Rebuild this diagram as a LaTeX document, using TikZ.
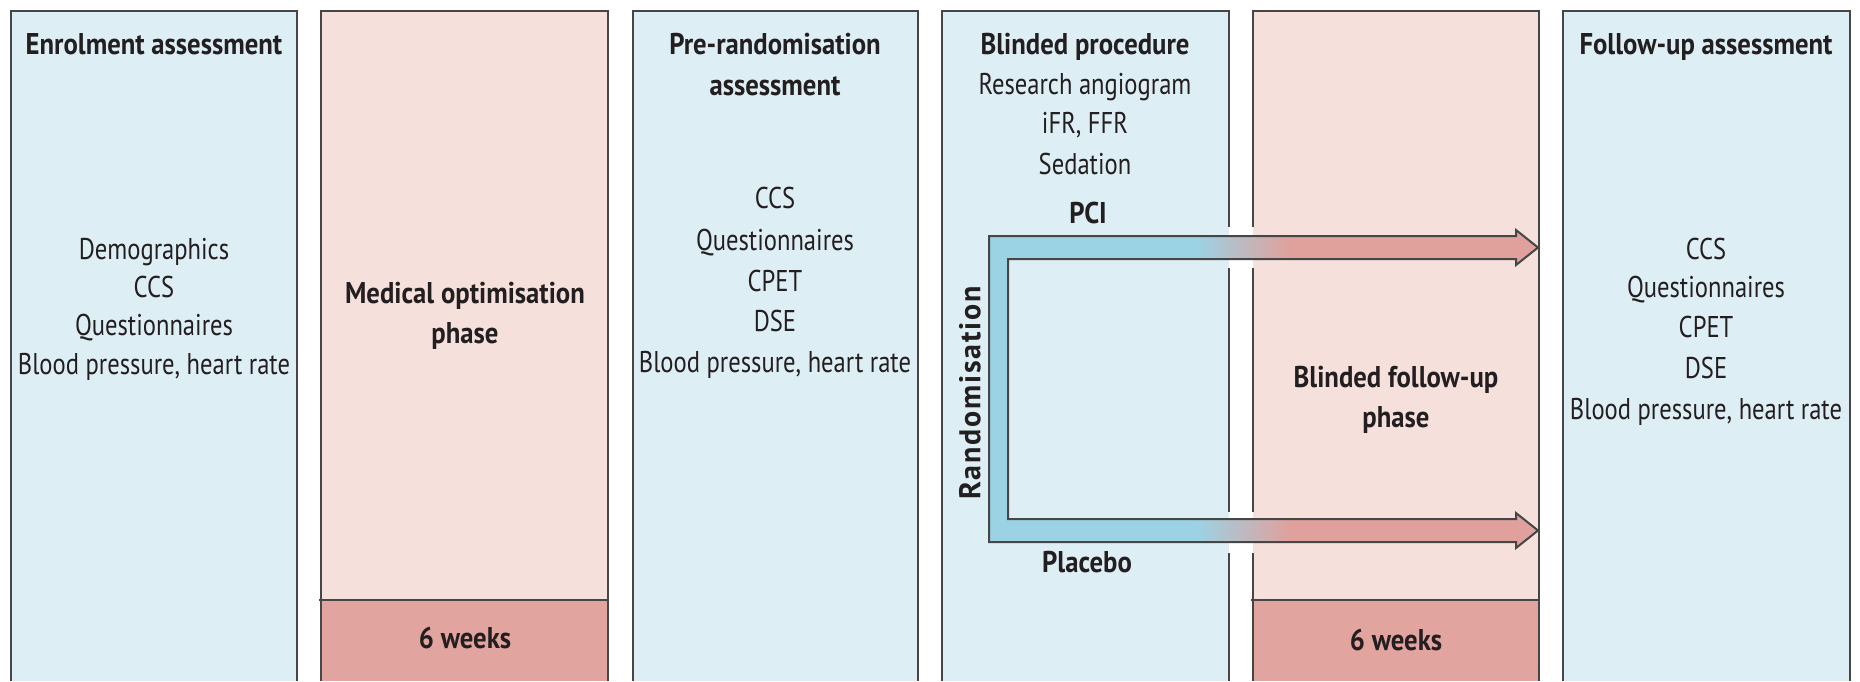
\documentclass[tikz,border=0pt]{standalone}
\usepackage{fontspec}
\setmainfont{PT Sans}[FakeStretch=0.82]
\newfontfamily\bfam{PT Sans}[FakeStretch=0.89]
\newfontfamily\randfont{PT Sans}[LetterSpace=6]
\definecolor{lblue}{RGB}{222,238,245}
\definecolor{lpink}{RGB}{245,224,220}
\definecolor{dpink}{RGB}{226,164,158}
\definecolor{ablue}{RGB}{155,211,229}
\definecolor{ared}{RGB}{224,160,155}
\definecolor{bordc}{RGB}{70,70,70}
\definecolor{textc}{RGB}{35,31,32}
\pgfdeclarehorizontalshading{arrowshade}{100bp}{color(0bp)=(ablue); color(43.8bp)=(ablue); color(52.5bp)=(ared); color(100bp)=(ared)}
\begin{document}
\begin{tikzpicture}[x=1pt,y=-1pt,
  bord/.style={draw=bordc, line width=2pt},
  txt/.style={font=\fontsize{30}{36}\selectfont, text=textc, anchor=base, inner sep=0pt},
  btxt/.style={font=\fontsize{30}{36}\selectfont\bfam\bfseries, text=textc, anchor=base, inner sep=0pt},
  rtxt/.style={font=\fontsize{30}{36}\selectfont\randfont\bfseries, text=textc, inner sep=0pt, rotate=90}
]
\useasboundingbox (0,0) rectangle (1860,681);
\fill[white] (0,0) rectangle (1860,681);
% box fills
\fill[lblue] (11,11) rectangle (297,681);
\fill[lpink] (321,11) rectangle (608,681);
\fill[lblue] (633,11) rectangle (918,681);
\fill[lblue] (942,11) rectangle (1229,681);
\fill[lpink] (1253,11) rectangle (1539,681);
\fill[lblue] (1563,11) rectangle (1850,681);
\fill[dpink] (321,600) rectangle (608,681);
\fill[dpink] (1253,600) rectangle (1539,681);
% borders
\draw[bord] (11,681) |- (297,11) -- (297,681);
\draw[bord] (321,681) |- (608,11) -- (608,681);
\draw[bord] (633,681) |- (918,11) -- (918,681);
\draw[bord] (942,681) |- (1229,11) -- (1229,227);
\draw[bord] (1229,268) -- (1229,512);
\draw[bord] (1229,553) -- (1229,681);
\draw[bord] (1253,681) -- (1253,553);
\draw[bord] (1253,512) -- (1253,268);
\draw[bord] (1253,227) |- (1539,11) -- (1539,681);
\draw[bord] (1563,681) |- (1850,11) -- (1850,681);
\draw[bord] (319,600) -- (608,600);
\draw[bord] (1251,600) -- (1539,600);
% arrow bracket
\shadedraw[shading=arrowshade, draw=bordc, line width=2pt, line join=miter]
 (989,236) -- (1516,236) -- (1516,230) -- (1538,247.5) -- (1516,265) -- (1516,259)
 -- (1008,259) -- (1008,519) -- (1516,519) -- (1516,513) -- (1538,530.5) -- (1516,548)
 -- (1516,542) -- (989,542) -- cycle;
% box 1
\node[btxt] (t1) at (154,54) {Enrolment assessment};
\node[txt] (a1) at (154,259) {Demographics};
\node[txt] (a2) at (154,297) {CCS};
\node[txt] (a3) at (154,335) {Questionnaires};
\node[txt] (a4) at (154,374) {Blood pressure, heart rate};
% box 2
\node[btxt] (m1) at (465,303) {Medical optimisation};
\node[btxt] (m2) at (465,343) {phase};
\node[btxt] (w1) at (465,648) {6 weeks};
% box 3
\node[btxt] (p1) at (775,54) {Pre-randomisation};
\node[btxt] (p2) at (775,95) {assessment};
\node[txt] (b1) at (775,208) {CCS};
\node[txt] (b2) at (775,250) {Questionnaires};
\node[txt] (b3) at (775,291) {CPET};
\node[txt] (b4) at (775,331) {DSE};
\node[txt] (b5) at (775,372) {Blood pressure, heart rate};
% box 4
\node[btxt] (bp) at (1085,54) {Blinded procedure};
\node[txt] (c1) at (1085,94) {Research angiogram};
\node[txt] (c2) at (1085,133) {iFR, FFR};
\node[txt] (c3) at (1085,174) {Sedation};
\node[btxt] (pci) at (1088,223) {PCI};
\node[btxt] (plc) at (1087,572) {Placebo};
\node[rtxt] (rnd) at (970,393) {Randomisation};
% box 5
\node[btxt] (f1) at (1396,387) {Blinded follow-up};
\node[btxt] (f2) at (1396,427) {phase};
\node[btxt] (w2) at (1396,650) {6 weeks};
% box 6
\node[btxt] (u1) at (1706,54) {Follow-up assessment};
\node[txt] (d1) at (1706,259) {CCS};
\node[txt] (d2) at (1706,297) {Questionnaires};
\node[txt] (d3) at (1706,337) {CPET};
\node[txt] (d4) at (1706,378) {DSE};
\node[txt] (d5) at (1706,419) {Blood pressure, heart rate};
\end{tikzpicture}
\end{document}
